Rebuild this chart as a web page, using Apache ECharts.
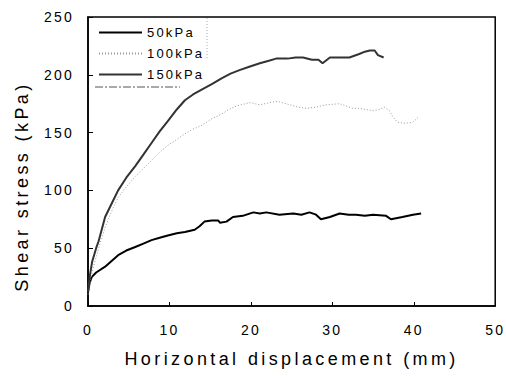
<!DOCTYPE html>
<html>
<head>
<meta charset="utf-8">
<script src="https://cdn.jsdelivr.net/npm/echarts@6/dist/echarts.min.js"></script>
<style>html,body{margin:0;padding:0;background:#fff}#c{width:506px;height:378px}</style>
</head>
<body>
<div id="c"></div>
<script>
var seriesNames = ['50kPa', '100kPa', '150kPa'];
var xTicks = [0, 10, 20, 30, 40, 50];
var yTicks = [0, 50, 100, 150, 200, 250];

var disp50 = [0, 0.2, 0.45, 1.0, 2.1, 2.9, 3.7, 4.7, 5.8, 6.8, 7.8, 8.8, 9.8, 10.9, 11.9, 13.1, 13.7, 14.3, 15.2, 16.0, 16.2, 17.0, 17.8, 19.0, 20.3, 21.1, 21.9, 23.5, 25.2, 26.2, 27.2, 28.0, 28.6, 29.7, 30.9, 32.0, 32.9, 34.0, 35.0, 36.6, 37.2, 38.6, 39.9, 40.9];
var stress50 = [12, 20, 25, 29, 34, 39, 44, 48, 51, 54, 57, 59, 61, 63, 64, 66, 69, 73, 74, 74, 72, 73, 77, 78, 81, 80, 81, 79, 80, 79, 81, 79, 75, 77, 80, 79, 79, 78, 79, 78, 75, 77, 79, 80];

var disp100 = [0, 0.3, 0.6, 0.9, 1.4, 2.1, 2.9, 3.7, 4.7, 5.8, 6.8, 7.8, 8.8, 9.8, 10.9, 11.9, 12.9, 13.9, 15.2, 16.4, 17.3, 18.2, 19.9, 21.1, 22.3, 23.3, 24.8, 25.8, 26.8, 28.0, 29.2, 30.9, 31.7, 32.5, 33.3, 34.1, 35.0, 35.8, 36.4, 37.0, 37.4, 38.0, 39.0, 39.9, 40.5];
var stress100 = [10, 22, 32, 40, 52, 68, 82, 94, 103, 112, 119, 126, 133, 139, 144, 149, 153, 156, 162, 166, 170, 173, 176, 174, 176, 177, 174, 172, 171, 172, 174, 175, 173, 171, 171, 170, 169, 170, 172, 169, 164, 159, 158, 159, 163];

var disp150 = [0, 0.2, 0.5, 1.0, 1.3, 2.1, 3.0, 3.7, 4.7, 5.8, 6.8, 7.8, 8.8, 9.8, 10.9, 11.9, 12.9, 13.9, 15.2, 16.4, 17.5, 18.6, 19.8, 21.1, 22.1, 23.1, 24.5, 25.5, 26.4, 27.5, 28.3, 28.8, 29.7, 31.0, 32.1, 33.3, 34.0, 34.6, 35.2, 35.6, 36.3];
var stress150 = [12, 25, 38, 50, 56, 77, 90, 100, 111, 121, 131, 141, 151, 160, 170, 178, 183, 187, 192, 197, 201, 204, 207, 210, 212, 214, 214, 215, 215, 213, 213, 210, 215, 215, 215, 218, 220, 221, 221, 217, 215];

function pairs(xs, ys) { return xs.map(function (x, i) { return [x, ys[i]]; }); }

var chart = echarts.init(document.getElementById('c'), null, { renderer: 'svg' });
var font = 'Liberation Sans';
chart.setOption({
  animation: false,
  backgroundColor: '#fff',
  grid: { left: 88, right: 10, top: 17, bottom: 72, show: true, borderColor: '#000', borderWidth: 1.5, backgroundColor: 'transparent' },
  legend: {
    orient: 'vertical', left: 93, top: 21,
    itemWidth: 43, itemHeight: 14, itemGap: 8,
    itemStyle: { opacity: 0 },
    textStyle: { fontFamily: font, fontSize: 13, color: '#000' },
    data: seriesNames
  },
  xAxis: {
    type: 'value', min: xTicks[0], max: xTicks[xTicks.length - 1], interval: 10,
    name: 'Horizontal displacement (mm)', nameLocation: 'middle', nameGap: 44,
    nameTextStyle: { fontFamily: font, fontSize: 18, color: '#000' },
    axisLine: { lineStyle: { color: '#000', width: 1.5 } },
    axisTick: { inside: true, length: 4, lineStyle: { color: '#000' } },
    axisLabel: { fontFamily: font, fontSize: 14, color: '#000', margin: 17 },
    splitLine: { show: false }
  },
  yAxis: {
    type: 'value', min: yTicks[0], max: yTicks[yTicks.length - 1], interval: 50,
    name: 'Shear stress (kPa)', nameLocation: 'middle', nameGap: 57,
    nameTextStyle: { fontFamily: font, fontSize: 18, color: '#000', padding: [0, 50, 0, 0] },
    axisLine: { lineStyle: { color: '#000', width: 1.5 } },
    axisTick: { inside: true, length: 5, lineStyle: { color: '#000' } },
    axisLabel: { fontFamily: font, fontSize: 14, color: '#000', margin: 14 },
    splitLine: { show: false }
  },
  graphic: [
    { type: 'line', shape: { x1: 207, y1: 18, x2: 207, y2: 58 }, style: { stroke: '#aaa', lineWidth: 1, lineDash: [1, 2] } },
    { type: 'line', shape: { x1: 95, y1: 87, x2: 180, y2: 87 }, style: { stroke: '#555', lineWidth: 1, lineDash: [8, 2, 2, 2] } }
  ],
  series: [
    { name: seriesNames[0], type: 'line', data: pairs(disp50, stress50), showSymbol: false, symbol: 'none',
      lineStyle: { color: '#000', width: 2 }, itemStyle: { color: '#000' } },
    { name: seriesNames[1], type: 'line', data: pairs(disp100, stress100), showSymbol: false, symbol: 'none',
      lineStyle: { color: '#999', width: 1, type: [1, 2] }, itemStyle: { color: '#999' } },
    { name: seriesNames[2], type: 'line', data: pairs(disp150, stress150), showSymbol: false, symbol: 'none',
      lineStyle: { color: '#333', width: 2 }, itemStyle: { color: '#333' } }
  ]
});

// emulate the wide letter spacing of the original typesetting
var texts = document.querySelectorAll('#c text');
texts.forEach(function (t) {
  var s = t.textContent;
  if (s === 'Horizontal displacement (mm)' || s === 'Shear stress (kPa)') t.style.letterSpacing = '3.4px';
  else t.style.letterSpacing = '2.2px';
});
</script>
</body>
</html>
